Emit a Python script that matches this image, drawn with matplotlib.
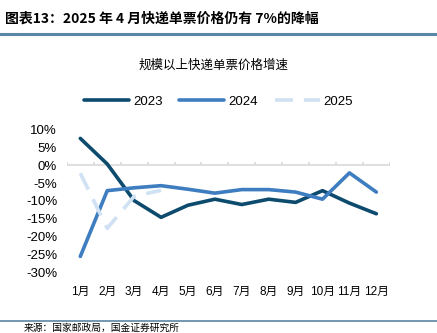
import numpy as np
import matplotlib
matplotlib.use("Agg")
import matplotlib.pyplot as plt

plt.rcParams['font.family'] = ['Noto Sans CJK SC', 'DejaVu Sans']

# data (%)
months = ['1月', '2月', '3月', '4月', '5月', '6月', '7月', '8月', '9月', '10月', '11月', '12月']
y2023 = [7.6, 0.4, -9.9, -14.6, -11.2, -9.5, -11.0, -9.5, -10.4, -7.1, -10.6, -13.6]
y2024 = [-25.6, -7.1, -6.3, -5.7, -6.7, -7.8, -6.8, -6.8, -7.5, -9.5, -2.1, -7.5]
y2025 = [-2.2, -17.7, -8.7, -7.0]
yticks = [10, 5, 0, -5, -10, -15, -20, -25, -30]

c23 = '#0c4a6e'
c24 = '#3e7dbf'
c25 = '#cfe1f3'
num_font = ['Liberation Sans', 'Noto Sans CJK SC']

fig = plt.figure(figsize=(4.37, 3.33), dpi=100)

# header
fig.text(0.012, 0.945, '图表13：2025 年 4 月快递单票价格仍有 7%的降幅',
         fontsize=10, fontweight='bold', fontstyle='italic', va='center', ha='left')
fig.add_artist(plt.Line2D([0, 1], [0.898, 0.898], color='#5b86a6', lw=2.2))
fig.text(0.488, 0.805, '规模以上快递单票价格增速', fontsize=9, ha='center', va='center')

ax = fig.add_axes([0.153, 0.183, 0.739, 0.427])
x = np.arange(1, 13)
ax.plot(x, y2023, color=c23, lw=2.6, label='2023', solid_capstyle='round')
ax.plot(x, y2024, color=c24, lw=2.6, label='2024', solid_capstyle='round')
ax.plot(x[:len(y2025)], y2025, color=c25, lw=2.6, label='2025', dashes=(5, 3))

ax.set_xlim(0.5, 12.5)
ax.set_ylim(-30, 10)
ax.set_yticks(yticks)
ax.set_yticklabels([f'{v}%' for v in yticks], fontsize=9.5, family=num_font)
ax.set_xticks(x)
ax.set_xticklabels(months, fontsize=8.5, family=num_font)
ax.tick_params(axis='both', length=0)
ax.tick_params(axis='x', pad=10)
ax.tick_params(axis='y', pad=7)
for s in ax.spines.values():
    s.set_visible(False)
ax.axhline(0, color='#d9d9d9', lw=1.2, zorder=0)
ax.vlines(np.arange(0.5, 13, 1), 0, 0.9, color='#d9d9d9', lw=1.2, zorder=0)

leg = ax.legend(loc='center', bbox_to_anchor=(0.47, 1.2), ncol=3, frameon=False,
                fontsize=9.5, handlelength=3.4, handletextpad=0.3, columnspacing=1.3)
for t in leg.get_texts():
    t.set_family(num_font)

# footer
fig.add_artist(plt.Line2D([0, 1], [0.036, 0.036], color='#5b86a6', lw=1.2))
fig.text(0.055, 0.0, '来源：国家邮政局，国金证券研究所', fontsize=7, ha='left', va='bottom')

fig.savefig('out.png', dpi=100)
